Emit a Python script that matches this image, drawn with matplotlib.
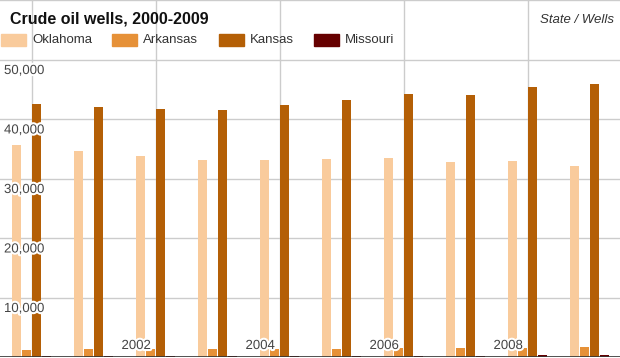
import matplotlib
matplotlib.use("Agg")
import matplotlib.pyplot as plt
import matplotlib.patheffects as pe
import numpy as np

plt.rcParams["font.family"] = ["Liberation Sans", "DejaVu Sans"]

YEARS = [2000, 2001, 2002, 2003, 2004, 2005, 2006, 2007, 2008, 2009]
STATES = ["Oklahoma", "Arkansas", "Kansas", "Missouri"]
OKLAHOMA = [35600, 34600, 33800, 33100, 33100, 33300, 33500, 32800, 32900, 32100]
ARKANSAS = [1200, 1350, 1350, 1350, 1350, 1400, 1500, 1550, 1550, 1600]
KANSAS = [42500, 42000, 41700, 41500, 42400, 43200, 44200, 44000, 45400, 45900]
MISSOURI = [170, 170, 170, 120, 170, 170, 220, 170, 300, 350]
COLORS = ["#f9cb9c", "#e69138", "#b45f06", "#660000"]
YTICKS = [10000, 20000, 30000, 40000, 50000]
XLABELS = [2002, 2004, 2006, 2008]

W, H = 620, 358
fig = plt.figure(figsize=(W / 100, H / 100), dpi=100)
ax = fig.add_axes([0, 1 / H, 1, 357 / H])
x0 = 2000 - 32 / 62
ax.set_xlim(x0, x0 + W / 62)
ax.set_ylim(0, 60000)

# grid
for v in YTICKS + [60000]:
    ax.axhline(v, color="#cccccc", lw=1, zorder=1)
for yr in range(2000, 2010, 2):
    ax.axvline(yr, color="#cccccc", lw=1, zorder=1)

series = [OKLAHOMA, ARKANSAS, KANSAS, MISSOURI]
pitch = 10 / 62
bw = 9 / 62
yrs = np.array(YEARS)
for i, (vals, col) in enumerate(zip(series, COLORS)):
    ax.bar(yrs + (i - 1.5) * pitch, vals, bw, color=col, zorder=2, linewidth=0)

ax.axhline(0, color="#333333", lw=1.2, zorder=3)

halo = [pe.withStroke(linewidth=3, foreground="white")]
px = 60000 / 357
for v in YTICKS:
    ax.text(x0 + 4 / 62, v - 5.5 * px, f"{v:,}", ha="left", va="top", fontsize=9.5,
            color="#444444", zorder=4, path_effects=halo)
for yr in XLABELS:
    ax.text(yr - 5 / 62, 5 * px, str(yr), ha="right", va="bottom", fontsize=9.5,
            color="#444444", zorder=4, path_effects=halo)

for s in ax.spines.values():
    s.set_visible(False)
ax.set_xticks([]); ax.set_yticks([])

# title / legend overlay
fig.text(10 / W, 1 - 19 / H, "Crude oil wells, 2000-2009", fontsize=11.5, fontweight="bold",
         ha="left", va="center", color="#111111")
fig.text(614 / W, 1 - 20 / H, "State / Wells", fontsize=9.5, fontstyle="italic",
         ha="right", va="center", color="#333333")
leg_x = [1, 112, 219, 314]
for lx, name, col in zip(leg_x, STATES, COLORS):
    fig.patches.append(plt.Rectangle((lx / W, 1 - 46 / H), 25 / W, 12 / H, color=col,
                                     transform=fig.transFigure, zorder=5))
    fig.text((lx + 31) / W, 1 - 40 / H, name, fontsize=9.5, ha="left", va="center",
             color="#333333")

fig.savefig("out.png", dpi=100)
